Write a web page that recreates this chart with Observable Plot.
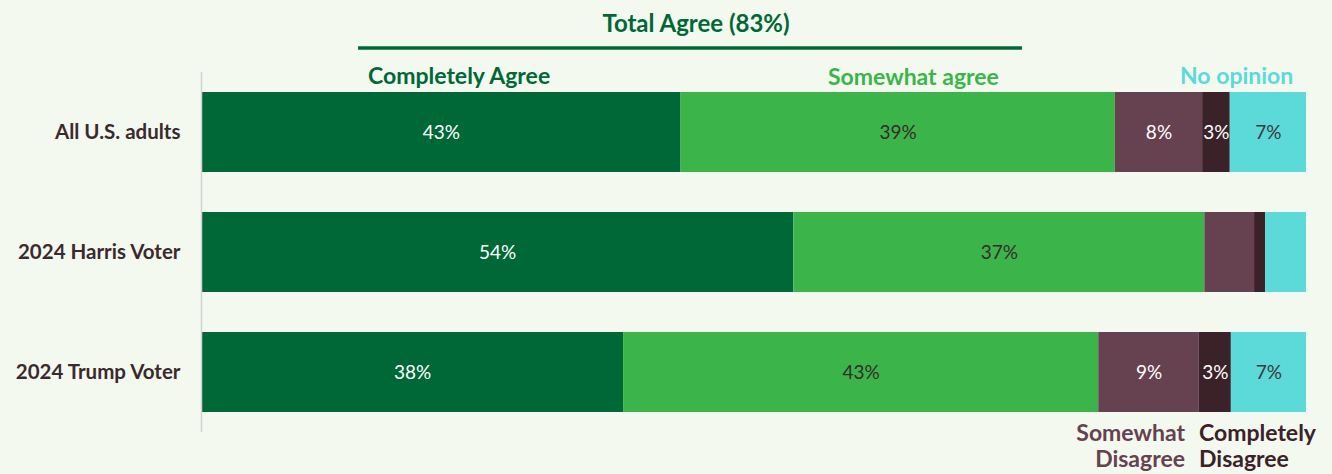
<!DOCTYPE html>
<html>
<head>
<meta charset="utf-8">
<script src="https://cdn.jsdelivr.net/npm/d3@7"></script>
<script src="https://cdn.jsdelivr.net/npm/@observablehq/plot@0.6"></script>
<style>
  html, body { margin: 0; padding: 0; background: #f4f9f0; }
  #chart svg { display: block; background: #f4f9f0; font-family: Lato, "Open Sans", sans-serif; }
</style>
</head>
<body>
<div id="chart"></div>
<script>
const groups = ["All U.S. adults", "2024 Harris Voter", "2024 Trump Voter"];
const categories = ["Completely Agree", "Somewhat agree", "Somewhat Disagree", "Completely Disagree", "No opinion"];
const colors = ["#006837", "#3bb54a", "#66414f", "#3a2228", "#5cd9d9"];
const textColors = ["#ffffff", "#3a2a2e", "#ffffff", "#ffffff", "#3a3a3a"];

const completelyAgree = [43.4, 53.6, 38.2];
const somewhatAgree = [39.3, 37.2, 43.0];
const somewhatDisagree = [7.9, 4.5, 9.1];
const completelyDisagree = [2.5, 1.0, 2.9];
const noOpinion = [6.9, 3.7, 6.8];

const completelyAgreeLabels = ["43%", "54%", "38%"];
const somewhatAgreeLabels = ["39%", "37%", "43%"];
const somewhatDisagreeLabels = ["8%", "", "9%"];
const completelyDisagreeLabels = ["3%", "", "3%"];
const noOpinionLabels = ["7%", "", "7%"];

const series = [completelyAgree, somewhatAgree, somewhatDisagree, completelyDisagree, noOpinion];
const seriesLabels = [completelyAgreeLabels, somewhatAgreeLabels, somewhatDisagreeLabels, completelyDisagreeLabels, noOpinionLabels];

const table = [];
groups.forEach((g, gi) => {
  let start = 0;
  categories.forEach((c, ci) => {
    const v = series[ci][gi];
    table.push({group: g, category: c, value: v, x1: start, x2: start + v, label: seriesLabels[ci][gi], textColor: textColors[ci]});
    start += v;
  });
});

const W = 1332, H = 474;
const plot = Plot.plot({
  width: W,
  height: H,
  marginLeft: 201,
  marginRight: 26,
  marginTop: 72,
  marginBottom: 42,
  style: {background: "#f4f9f0", fontFamily: "Lato, 'Open Sans', sans-serif"},
  x: {domain: [0, 100], axis: null},
  y: {domain: groups, paddingInner: 0.335, paddingOuter: 0.165, label: null, tickSize: 0, tickPadding: 21},
  color: {domain: categories, range: colors},
  marks: [
    Plot.barX(table, {x1: "x1", x2: "x2", y: "group", fill: "category"}),
    Plot.ruleX([0], {stroke: "#d0d3cf", strokeWidth: 1.5}),
    ...textColors.filter((c, i, a) => a.indexOf(c) === i).map(tc =>
      Plot.text(table.filter(d => d.textColor === tc && d.label), {
        x: d => (d.x1 + d.x2) / 2, y: "group", text: "label",
        fill: tc, fontSize: 19, fontWeight: 400
      })
    ),
    Plot.axisY({tickSize: 0, tickPadding: 21, fontSize: 20.5, fontWeight: "bold", fill: "#3a2a2e", label: null})
  ]
});
document.getElementById("chart").appendChild(plot);

const svg = d3.select(plot);
const ann = svg.append("g").attr("font-family", "Lato, 'Open Sans', sans-serif").attr("font-weight", "bold").attr("text-anchor", "start");
ann.append("text").attr("x", 696).attr("y", 24).attr("dy", "0.35em").attr("text-anchor", "middle")
  .attr("font-size", 24).attr("fill", "#006837").text("Total Agree (83%)");
ann.append("line").attr("x1", 358).attr("x2", 1022).attr("y1", 48).attr("y2", 48)
  .attr("stroke", "#006837").attr("stroke-width", 3.5);
ann.append("text").attr("x", 368).attr("y", 76).attr("dy", "0.35em")
  .attr("font-size", 23).attr("fill", "#006837").text("Completely Agree");
ann.append("text").attr("x", 828).attr("y", 77).attr("dy", "0.35em")
  .attr("font-size", 23).attr("fill", "#3bb54a").text("Somewhat agree");
ann.append("text").attr("x", 1180).attr("y", 76).attr("dy", "0.35em")
  .attr("font-size", 23).attr("fill", "#5cd9d9").text("No opinion");
const sd = ann.append("text").attr("text-anchor", "end").attr("font-size", 23).attr("fill", "#66414f");
sd.append("tspan").attr("x", 1185).attr("y", 433).attr("dy", "0.35em").text("Somewhat");
sd.append("tspan").attr("x", 1185).attr("y", 459).attr("dy", "0.35em").text("Disagree");
const cd = ann.append("text").attr("text-anchor", "start").attr("font-size", 23).attr("fill", "#3a2228");
cd.append("tspan").attr("x", 1199).attr("y", 433).attr("dy", "0.35em").text("Completely");
cd.append("tspan").attr("x", 1199).attr("y", 459).attr("dy", "0.35em").text("Disagree");
</script>
</body>
</html>
